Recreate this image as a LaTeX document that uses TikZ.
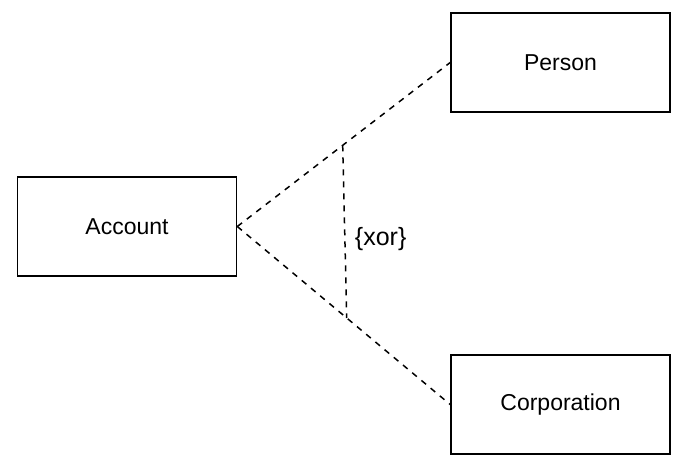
\documentclass[tikz,border=0pt]{standalone}
\usepackage{fontspec}
\setmainfont{Liberation Sans}
\usepackage{tikz}

\begin{document}
\begin{tikzpicture}[x=1pt,y=-1pt,
    assoc/.style={line width=1.5pt,dash pattern=on 6pt off 6pt}]
    \useasboundingbox (0,0) rectangle (688,468);
    \newcommand\entity[3]{
      \node[rectangle,draw,line width=1.6pt,minimum width=219pt,
      minimum height=99pt,inner sep=0pt,font=\fontsize{23}{27}\selectfont]
      at (#1,#2) (#3) {#3};
    }
    \entity{127}{226.5}{Account};
    \entity{560.5}{62.5}{Person};
    \entity{560.5}{404.5}{Corporation};
    \draw[assoc] (Account.east) -- coordinate[pos=.495] (upper) (Person.west);
    \draw[assoc] (Account.east) -- coordinate[pos=.514] (lower) (Corporation.west);
    \draw[assoc] (upper) -- node[pos=.54,right=6pt,font=\fontsize{25}{29}\selectfont]
      (xor) {\{xor\}} (lower);
  \end{tikzpicture}
\end{document}
